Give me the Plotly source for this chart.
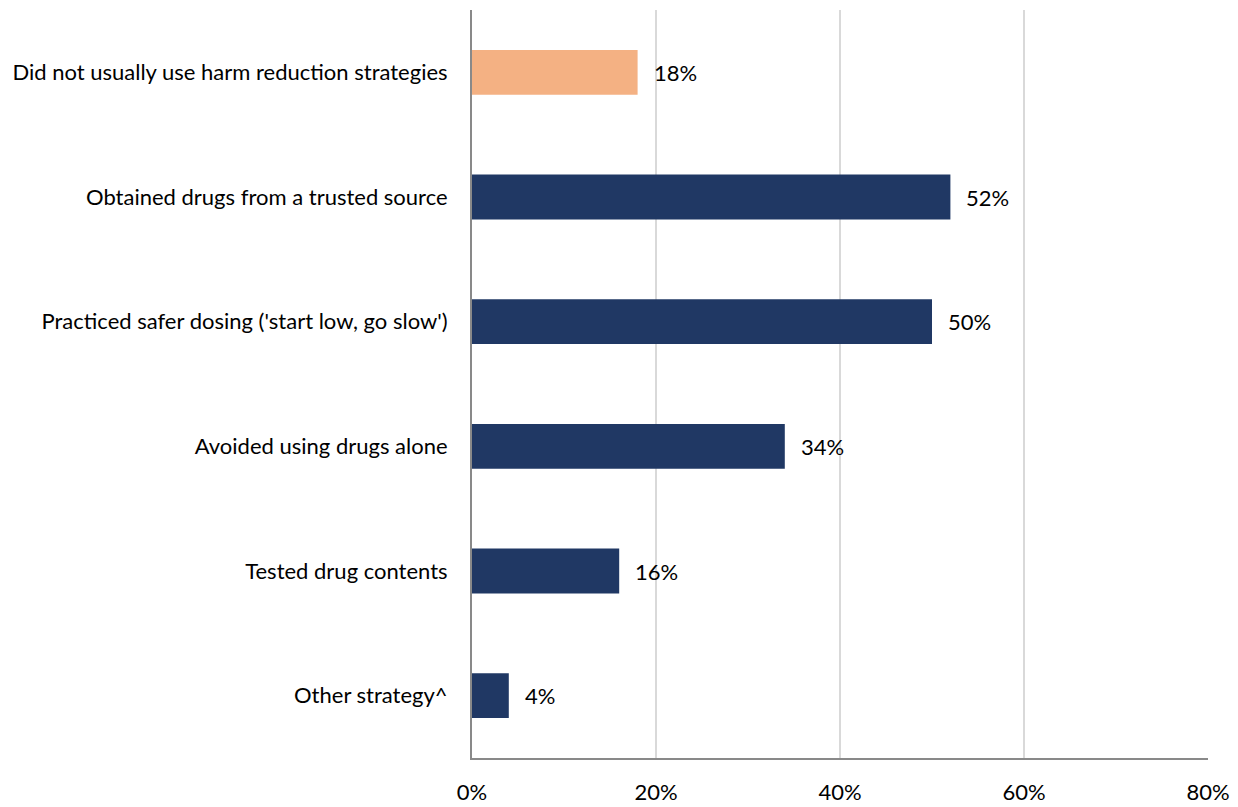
import plotly.graph_objects as go

categories = [
    "Did not usually use harm reduction strategies",
    "Obtained drugs from a trusted source",
    "Practiced safer dosing ('start low, go slow')",
    "Avoided using drugs alone",
    "Tested drug contents",
    "Other strategy^",
]
values = [18, 52, 50, 34, 16, 4]
colors = ["#F4B183", "#203864", "#203864", "#203864", "#203864", "#203864"]
tick_vals = [0, 20, 40, 60, 80]
tick_text = ["0%", "20%", "40%", "60%", "80%"]

FONT = "Lato"
FS = 22

fig = go.Figure(
    go.Bar(
        x=values,
        y=categories,
        orientation="h",
        marker=dict(color=colors, line=dict(width=0)),
        hoverinfo="skip",
    )
)

for c, v in zip(categories, values):
    fig.add_annotation(
        x=v, y=c, text=f"{v}%", showarrow=False,
        xanchor="left", xshift=14, font=dict(family=FONT, size=FS, color="#000000"),
    )

fig.update_layout(
    width=1230, height=799,
    margin=dict(l=464, r=30, t=2, b=44),
    paper_bgcolor="white", plot_bgcolor="white",
    bargap=0.64,
    showlegend=False,
    font=dict(family=FONT, size=FS, color="#000000"),
)
fig.update_xaxes(
    range=[0, 80], tickvals=tick_vals, ticktext=tick_text,
    showgrid=True, gridcolor="#D9D9D9", gridwidth=1.5,
    showline=True, linecolor="#898989", linewidth=2,
    ticks="outside", ticklen=14, tickcolor="rgba(0,0,0,0)",
    zeroline=False, fixedrange=True,
)
fig.update_yaxes(
    categoryorder="array", categoryarray=categories[::-1],
    showline=True, linecolor="#898989", linewidth=2,
    ticks="outside", ticklen=18, tickcolor="rgba(0,0,0,0)",
    showgrid=False, fixedrange=True,
)

fig.write_html("out.html")
